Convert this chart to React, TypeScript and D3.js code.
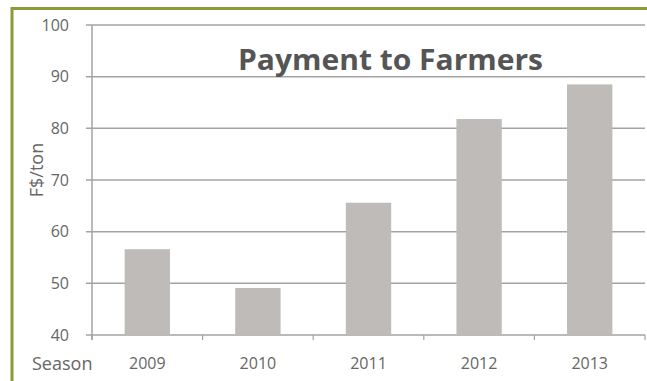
import React from "react";
import * as d3 from "d3";

const seasons = ["2009", "2010", "2011", "2012", "2013"];
const payments = [56.6, 49.1, 65.6, 81.8, 88.5];
const yTicks = [40, 50, 60, 70, 80, 90, 100];
const title = "Payment to Farmers";
const yLabel = "F$/ton";
const xLabel = "Season";

const W = 647;
const H = 381;
const margin = { left: 92, right: 2, top: 25, bottom: 46 };

export default function App() {
  const x = d3
    .scaleBand<string>()
    .domain(seasons)
    .range([margin.left, W - margin.right])
    .paddingInner(0.59)
    .paddingOuter(0.295);
  const y = d3.scaleLinear().domain([40, 100]).range([H - margin.bottom, margin.top]);
  const step = x.step();
  const bandEdges = seasons.map((s) => (x(s) as number) - (step - x.bandwidth()) / 2);
  bandEdges.push(W - margin.right);
  const font = "Open Sans, Lato, sans-serif";
  const gridColor = "#a3a3a3";
  const textColor = "#666";

  return (
    <svg
      width={W}
      height={H}
      style={{ position: "absolute", left: 0, top: 0, display: "block", background: "#fff" }}
    >
      <rect x={0} y={0} width={W} height={H} fill="#fff" />
      {/* green frame */}
      <line x1={12} x2={W} y1={8.5} y2={8.5} stroke="#8a9a3c" strokeWidth={3} />
      <line x1={12} x2={12} y1={7} y2={H} stroke="#8a9a3c" strokeWidth={3} />

      {/* gridlines */}
      {yTicks.map((t) => (
        <g key={t}>
          <line
            x1={86}
            x2={W - margin.right}
            y1={y(t)}
            y2={y(t)}
            stroke={gridColor}
            strokeWidth={1.5}
          />
          <text
            x={69}
            y={y(t)}
            dy="0.35em"
            textAnchor="end"
            fontFamily={font}
            fontSize={16}
            fill={textColor}
          >
            {t}
          </text>
        </g>
      ))}

      {/* bars */}
      {seasons.map((s, i) => (
        <rect
          key={s}
          x={x(s)}
          y={y(payments[i])}
          width={x.bandwidth()}
          height={y(40) - y(payments[i])}
          fill="#bfbbb8"
        />
      ))}

      {/* axes */}
      <line x1={margin.left} x2={margin.left} y1={y(100)} y2={y(40) + 5} stroke={gridColor} strokeWidth={1.5} />
      {bandEdges.map((e, i) => (
        <line key={i} x1={e} x2={e} y1={y(40)} y2={y(40) + 5} stroke={gridColor} strokeWidth={1.2} />
      ))}

      {seasons.map((s) => (
        <text
          key={s}
          x={(x(s) as number) + x.bandwidth() / 2}
          y={363}
          dy="0.35em"
          textAnchor="middle"
          fontFamily={font}
          fontSize={16}
          fill={textColor}
        >
          {s}
        </text>
      ))}

      <text x={32} y={364} dy="0.35em" fontFamily={font} fontSize={18} fill={textColor}>
        {xLabel}
      </text>
      <text
        transform="translate(37,170) rotate(-90)"
        textAnchor="middle"
        dy="0.35em"
        fontFamily={font}
        fontSize={18}
        fill={textColor}
      >
        {yLabel}
      </text>

      <text
        x={390.5}
        y={70}
        textAnchor="middle"
        fontFamily={font}
        fontWeight="bold"
        fontSize={28}
        textLength={305}
        lengthAdjust="spacingAndGlyphs"
        fill="#555"
      >
        {title}
      </text>
    </svg>
  );
}
